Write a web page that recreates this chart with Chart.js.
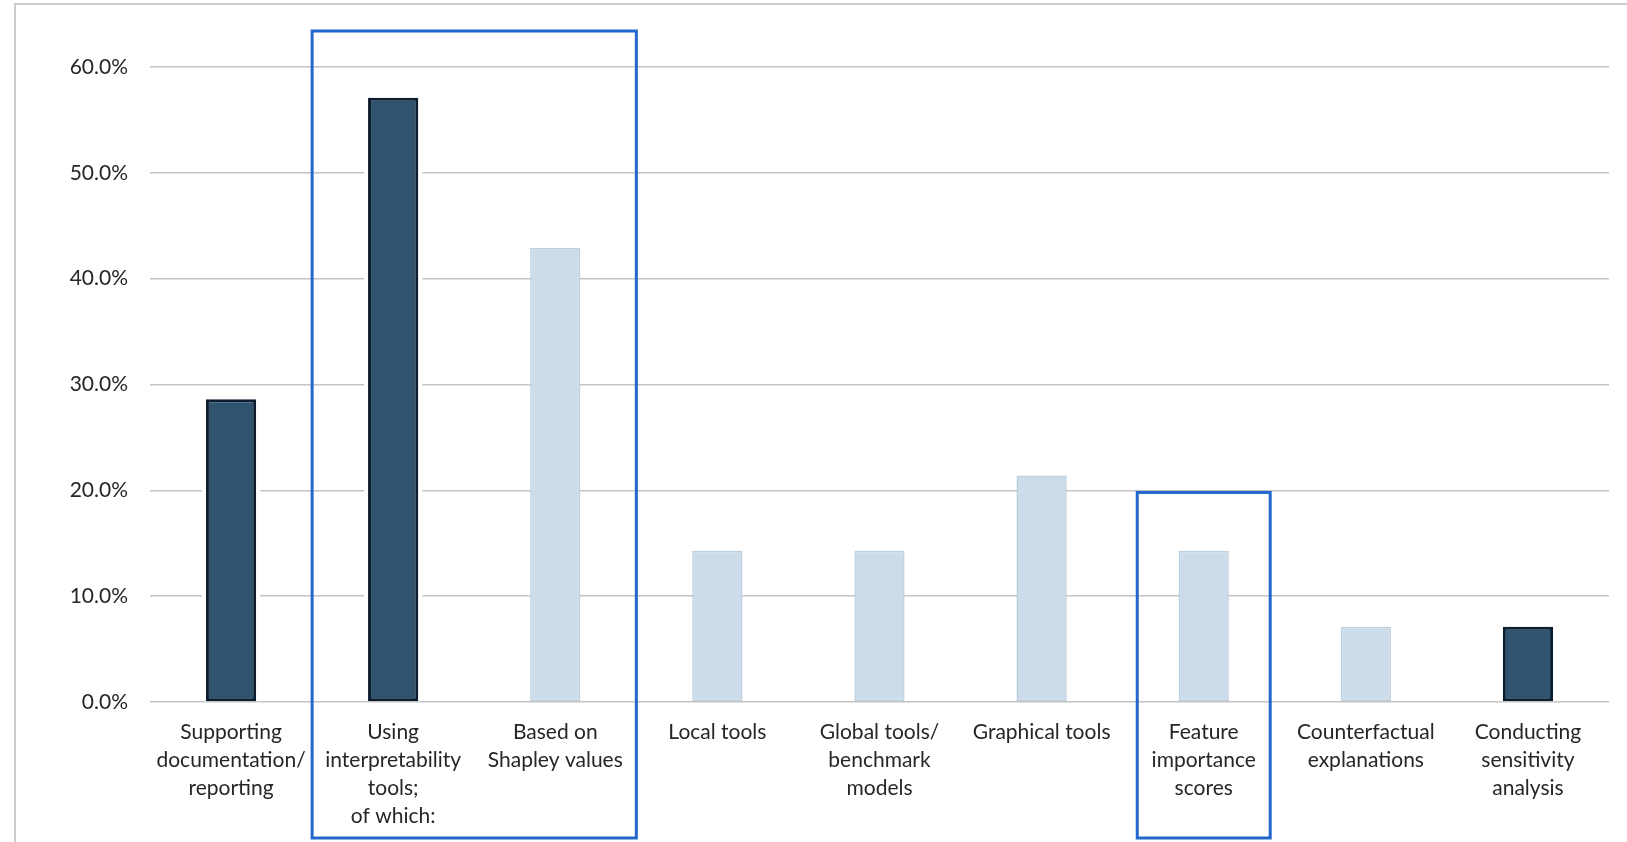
<!DOCTYPE html>
<html>
<head>
<meta charset="utf-8">
<script src="https://cdn.jsdelivr.net/npm/chart.js@4/dist/chart.umd.min.js"></script>
<style>
  html, body { margin: 0; padding: 0; background: #fff; }
  #wrap { width: 1627px; height: 842px; position: relative; }
</style>
</head>
<body>
<div id="wrap"><canvas id="toolsChart" width="1627" height="842"></canvas></div>
<script>
const categories = [
    ['Supporting', 'documentation/', 'reporting'],
    ['Using', 'interpretability', 'tools;', 'of which:'],
    ['Based on', 'Shapley values'],
    ['Local tools'],
    ['Global tools/', 'benchmark', 'models'],
    ['Graphical tools'],
    ['Feature', 'importance', 'scores'],
    ['Counterfactual', 'explanations'],
    ['Conducting', 'sensitivity', 'analysis']
];
const shares = [28.6, 57.1, 42.9, 14.3, 14.3, 21.4, 14.3, 7.1, 7.1];
// main items are dark, sub-items of the interpretability tools are light
const isMain = [true, true, false, false, false, false, false, false, true];
const yTicks = [0, 10, 20, 30, 40, 50, 60];

const DARK = '#30546f', DARK_EDGE = '#0c1d2e';
const LIGHT = '#cddcea', LIGHT_EDGE = '#bdcedd';
const GRID = '#c4c4c4';
const BOX_BLUE = '#2366cc';
const TEXT = '#262626';

// highlight frames: category range, how far past the centre they reach, top value
const frames = [
    { from: 1, to: 2, reach: 0.5, top: 63.4 },
    { from: 6, to: 6, reach: 0.41, top: 19.8 }
];

// white halo behind dark bars, so gridlines stop short of them
const halo = {
    id: 'halo',
    beforeDatasetsDraw(chart) {
        const ctx = chart.ctx;
        ctx.save();
        ctx.fillStyle = '#fff';
        chart.getDatasetMeta(0).data.forEach((bar, i) => {
            if (!isMain[i]) return;
            const w = bar.width;
            ctx.fillRect(bar.x - w / 2 - 4, bar.y - 3, w + 8, bar.base - bar.y + 3);
        });
        ctx.restore();
    }
};

const frameBoxes = {
    id: 'frameBoxes',
    afterDraw(chart) {
        const ctx = chart.ctx;
        const x = chart.scales.x, y = chart.scales.y;
        ctx.save();
        // outer chart border
        ctx.strokeStyle = '#cbcbcb';
        ctx.lineWidth = 2;
        ctx.strokeRect(15, 4, chart.width + 20, chart.height + 20);
        ctx.strokeStyle = BOX_BLUE;
        ctx.lineWidth = 3;
        frames.forEach(f => {
            const left = x.getPixelForValue(f.from - f.reach);
            const right = x.getPixelForValue(f.to + f.reach);
            const top = y.getPixelForValue(f.top);
            ctx.strokeRect(left, top, right - left, chart.height - 4 - top);
        });
        ctx.restore();
    }
};

const ctx = document.getElementById('toolsChart').getContext('2d');
const chart = new Chart(ctx, {
    type: 'bar',
    data: {
        labels: categories,
        datasets: [{
            data: shares,
            backgroundColor: isMain.map(m => m ? DARK : LIGHT),
            borderColor: isMain.map(m => m ? DARK_EDGE : LIGHT_EDGE),
            borderWidth: isMain.map(m => m ? 3 : 1.5),
            borderSkipped: false,
            categoryPercentage: 1,
            barPercentage: 0.31
        }]
    },
    options: {
        responsive: false,
        animation: false,
        layout: { padding: { top: 67, right: 18, left: 0, bottom: 0 } },
        plugins: {
            legend: { display: false },
            tooltip: { enabled: false }
        },
        scales: {
            x: {
                grid: { display: false, drawTicks: false },
                border: { display: false },
                afterFit(scale) { scale.height = 140; },
                ticks: {
                    maxRotation: 0,
                    autoSkip: false,
                    padding: 16,
                    color: TEXT,
                    font: { family: 'Lato', size: 21, lineHeight: 1.33 }
                }
            },
            y: {
                min: 0,
                max: 60,
                afterFit(scale) { scale.width = 150; },
                afterBuildTicks(scale) { scale.ticks = yTicks.map(v => ({ value: v })); },
                grid: { color: GRID, lineWidth: 1.6, drawTicks: false },
                border: { display: false },
                ticks: {
                    padding: 22,
                    color: TEXT,
                    font: { family: 'Lato', size: 21 },
                    callback: v => v.toFixed(1) + '%'
                }
            }
        }
    },
    plugins: [halo, frameBoxes]
});
</script>
</body>
</html>
